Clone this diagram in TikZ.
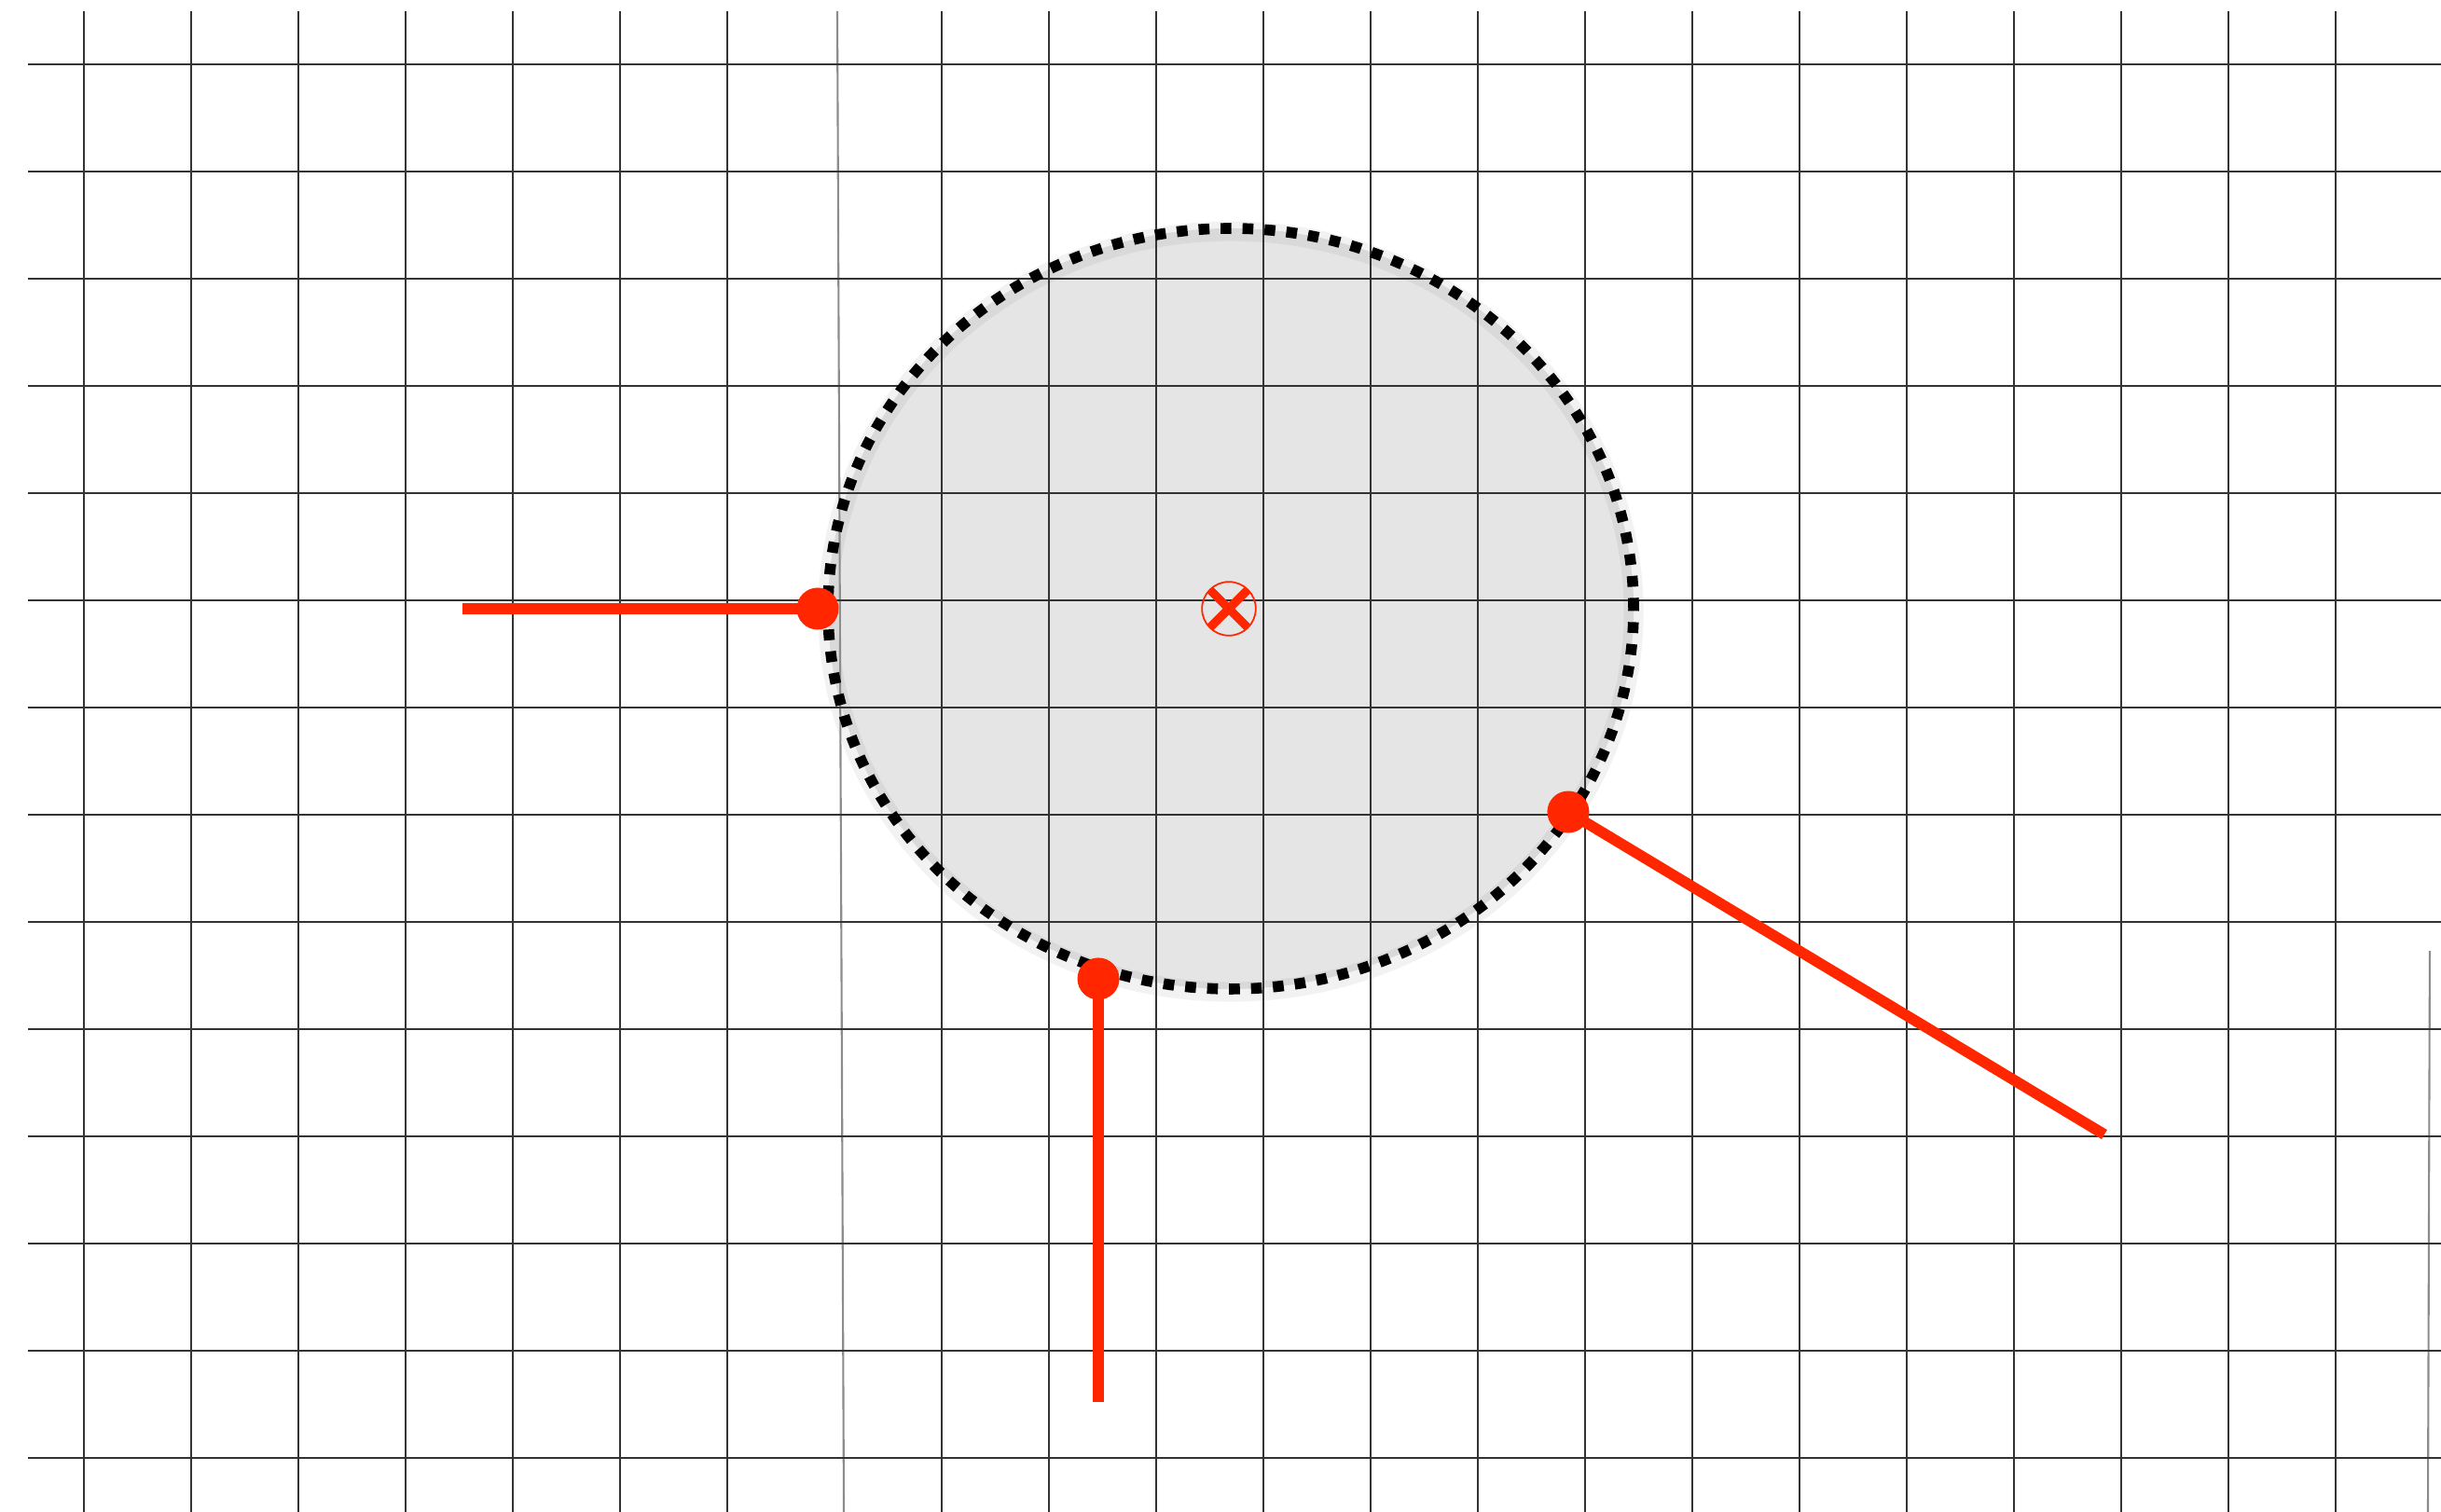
\documentclass[tikz,border=0pt]{standalone}
\usepackage{xcolor}
\usepackage{tikz}
\usetikzlibrary{shapes.geometric}

\definecolor{markred}{HTML}{FF2600}
\definecolor{discgray}{HTML}{E5E5E5}

\begin{document}
\begin{tikzpicture}[x=1.15cm, y=-1.15cm,
    gridline/.style={line width=0.6pt, black!80},
    sketchline/.style={line width=0.6pt, black!45},
    zone/.style={ellipse, draw=black, line width=3.3pt, dash pattern=on 3.3pt off 3.4pt,
        minimum width=8.64cm, minimum height=8.16cm, inner sep=0pt},
    redline/.style={line width=3.3pt, markred},
    reddot/.style={circle, fill=markred, inner sep=0pt, minimum size=0.45cm},
    crossmark/.style={circle, draw=markred, line width=0.5pt, minimum size=16.4pt, inner sep=0pt,
        path picture={\draw[markred, line width=2.6pt]
            (path picture bounding box.north west) -- (path picture bounding box.south east)
            (path picture bounding box.south west) -- (path picture bounding box.north east);}}]
\useasboundingbox (-0.783,-0.6) rectangle (21.983,13.504);

% Disc fill (under the grid)
\fill[discgray] (10.696,5.078) ellipse (3.757 and 3.548);
\draw[black, opacity=0.05, line width=6pt] (10.696,5.105) ellipse (3.757 and 3.548);

% Grid
\foreach \x in {0,...,6,8,9,...,21} {
    \draw[gridline] (\x,-0.496) -- (\x,13.504);
}
\draw[sketchline] (7.026,-0.496) -- (7.087,13.504);
\draw[sketchline] (21.878,8.27) -- (21.861,13.504);
\foreach \y in {0,...,13} {
    \draw[gridline] (-0.522,\y) -- (21.983,\y);
}

% Disc outline and centre
\node[zone] (disc) at (10.696,5.078) {};
\node[crossmark] (centre) at (10.678,5.078) {};

% Contact points
\coordinate (eleft) at (3.530,5.078);
\coordinate (ebottom) at (9.461,12.478);
\coordinate (eright) at (18.843,9.983);

\node[reddot] (pleft) at (6.843,5.078) {};
\node[reddot] (pbottom) at (9.461,8.530) {};
\node[reddot] (pright) at (13.843,6.974) {};

% Red leads
\draw[redline] (eleft) -- (pleft.center);
\draw[redline] (ebottom) -- (pbottom.center);
\draw[redline] (eright) -- (pright.center);

\end{tikzpicture}
\end{document}
